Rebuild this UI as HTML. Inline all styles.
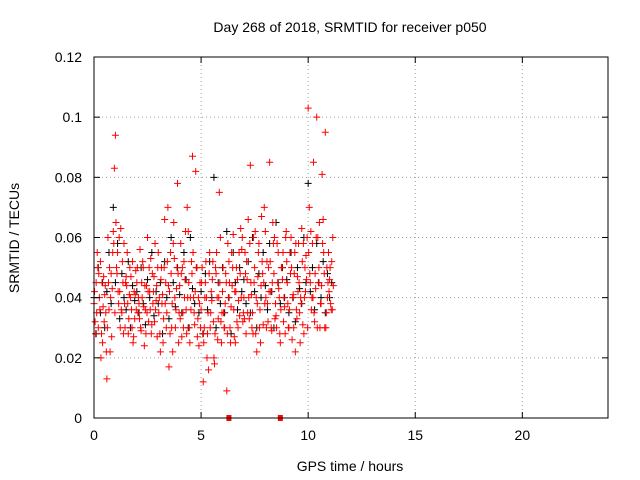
<!DOCTYPE html>
<html><head><meta charset="utf-8"><style>
body{margin:0;background:#fff;}
svg{display:block;font-family:"Liberation Sans",sans-serif;}
</style></head><body>
<svg id="chart" width="640" height="480" viewBox="0 0 640 480"></svg>
<script>
const times=[0.0,0.1,0.2,0.3,0.4,0.5,0.6,0.7,0.8,0.9,1.0,1.1,1.2,1.3,1.4,1.5,1.6,1.7,1.8,1.9,2.0,2.1,2.2,2.3,2.4,2.5,2.6,2.7,2.8,2.9,3.0,3.1,3.2,3.3,3.4,3.5,3.6,3.7,3.8,3.9,4.0,4.1,4.2,4.3,4.4,4.5,4.6,4.7,4.8,4.9,5.0,5.1,5.2,5.3,5.4,5.5,5.6,5.7,5.8,5.9,6.0,6.1,6.2,6.3,6.4,6.5,6.6,6.7,6.8,6.9,7.0,7.1,7.2,7.3,7.4,7.5,7.6,7.7,7.8,7.9,8.0,8.1,8.2,8.3,8.4,8.5,8.6,8.7,8.8,8.9,9.0,9.1,9.2,9.3,9.4,9.5,9.6,9.7,9.8,9.9,10.0,10.1,10.2,10.3,10.4,10.5,10.6,10.7,10.8,10.9,11.0,11.1];
const redA=[.038,.045,.030,.052,.025,.041,.013,.036,.048,.062,.094,.055,.042,.035,.058,.047,.028,.040,.052,.033,.045,.038,.029,.050,.036,.060,.042,.031,.047,.039,.055,.022,.041,.066,.035,.017,.048,.058,.030,.078,.044,.027,.052,.036,.062,.040,.087,.031,.050,.024,.036,.012,.045,.028,.055,.039,.020,.048,.033,.060,.042,.030,.009,.052,.037,.061,.025,.046,.034,.056,.040,.028,.066,.084,.035,.050,.022,.058,.044,.031,.062,.038,.085,.029,.048,.034,.055,.025,.046,.037,.052,.030,.060,.041,.022,.047,.035,.063,.028,.054,.103,.045,.058,.032,.100,.050,.038,.066,.095,.040,.046,.052];
const redB=[.032,.055,.040,.028,.047,.035,.060,.022,.043,.083,.050,.038,.063,.045,.030,.055,.041,.036,.027,.049,.035,.056,.040,.024,.044,.032,.053,.038,.058,.027,.040,.050,.033,.045,.070,.028,.038,.053,.043,.025,.058,.035,.046,.070,.030,.052,.040,.082,.033,.045,.050,.030,.040,.016,.035,.052,.028,.040,.075,.025,.035,.048,.058,.030,.044,.027,.050,.039,.063,.032,.055,.046,.033,.041,.060,.028,.047,.036,.052,.070,.030,.050,.042,.065,.033,.058,.040,.050,.032,.060,.038,.055,.026,.048,.036,.058,.040,.031,.050,.060,.070,.036,.085,.043,.060,.030,.081,.048,.035,.055,.038,.060];
const redC=[.042,.035,.048,.020,.037,.044,.030,.050,.027,.058,.065,.042,.030,.052,.038,.044,.033,.047,.025,.041,.050,.033,.045,.037,.028,.042,.036,.048,.032,.044,.035,.046,.025,.038,.052,.042,.030,.065,.036,.048,.033,.050,.040,.028,.045,.036,.055,.042,.027,.038,.045,.025,.052,.035,.030,.046,.018,.055,.040,.032,.050,.038,.028,.045,.055,.036,.042,.030,.048,.060,.033,.052,.040,.045,.028,.062,.038,.030,.067,.045,.040,.032,.052,.045,.060,.030,.043,.036,.055,.028,.045,.036,.050,.030,.058,.042,.025,.052,.040,.046,.055,.062,.040,.048,.030,.065,.044,.055,.030,.045,.050,.036];
const redD=[.028,.050,.036,.045,.032,.022,.045,.040,.055,.035,.048,.060,.036,.028,.045,.038,.050,.030,.042,.036,.040,.030,.052,.044,.035,.050,.028,.042,.036,.050,.028,.038,.050,.030,.044,.055,.022,.040,.050,.035,.048,.030,.062,.040,.025,.048,.035,.050,.040,.030,.028,.040,.020,.048,.042,.032,.050,.026,.045,.035,.030,.045,.040,.025,.050,.042,.032,.055,.040,.035,.048,.035,.058,.030,.045,.040,.055,.025,.048,.038,.052,.042,.030,.058,.038,.045,.028,.050,.040,.062,.030,.048,.040,.055,.033,.045,.038,.058,.042,.030,.048,.040,.035,.060,.045,.038,.058,.030,.050,.042,.036,.044];
const black=[.040,.028,.050,.035,.045,.030,.042,.055,.038,.070,.045,.058,.033,.048,.040,.036,.052,.030,.044,.039,.042,.035,.050,.038,.031,.046,.040,.055,.034,.042,.038,.045,.028,.052,.040,.033,.060,.045,.037,.050,.041,.035,.055,.046,.030,.060,.043,.038,.050,.035,.042,.028,.048,.036,.052,.040,.080,.030,.045,.038,.050,.035,.062,.040,.028,.055,.045,.036,.050,.042,.046,.038,.052,.035,.060,.042,.030,.048,.040,.055,.044,.036,.058,.042,.030,.065,.045,.038,.050,.040,.046,.035,.055,.040,.032,.050,.043,.038,.060,.045,.078,.042,.050,.036,.058,.045,.040,.052,.035,.048,.040,.045];
const zeroTimes=[6.3,8.7];
const zeroVals=[0,0];
const xTicks=[0,5,10,15,20];
const yTicks=[0,0.02,0.04,0.06,0.08,0.1,0.12];
const yTickLabels=["0","0.02","0.04","0.06","0.08","0.1","0.12"];

const L=94,R=608,T=57,B=418;
const xs=v=>L+(v/24)*(R-L);
const ys=v=>B-(v/0.12)*(B-T);
const svg=document.getElementById('chart');
const NS='http://www.w3.org/2000/svg';
function mk(tag,attrs,parent){const e=document.createElementNS(NS,tag);for(const k in attrs)e.setAttribute(k,attrs[k]);(parent||svg).appendChild(e);return e;}

const grid=mk('g',{});


xTicks.forEach(t=>{if(t>0){mk('line',{x1:xs(t),x2:xs(t),y1:T,y2:B,stroke:'#a0a0a0','stroke-dasharray':'1,3','stroke-width':1},grid);}});
yTicks.forEach(t=>{if(t>0&&t<0.12){mk('line',{x1:L,x2:R,y1:ys(t),y2:ys(t),stroke:'#a0a0a0','stroke-dasharray':'1,3','stroke-width':1},grid);}});

const pts=mk('g',{});


function plus(x,y,c,name){const p=mk('path',{d:`M${x-3.5},${y}h7M${x},${y-3.5}v7`,stroke:c,'stroke-width':1},pts);

}
times.forEach((t,i)=>plus(xs(t),ys(black[i]),'#000','point-black'));
times.forEach((t,i)=>plus(xs(t),ys(redA[i]),'#f00','point-red'));
times.forEach((t,i)=>plus(xs(t+0.05),ys(redB[i]),'#f00','point-red'));
times.forEach((t,i)=>plus(xs(t+0.025),ys(redC[i]),'#f00','point-red'));
times.forEach((t,i)=>plus(xs(t+0.075),ys(redD[i]),'#f00','point-red'));
zeroTimes.forEach((t,i)=>{const r=mk('rect',{x:xs(t)-2.5,y:ys(zeroVals[i])-3,width:5,height:6,fill:'#f00'},pts);

});

const ax=mk('g',{});


mk('rect',{x:L,y:T,width:R-L,height:B-T,fill:'none',stroke:'#000','stroke-width':1},ax);
xTicks.forEach(t=>{const x=xs(t);
mk('line',{x1:x,x2:x,y1:B,y2:B-6,stroke:'#000'},ax);mk('line',{x1:x,x2:x,y1:T,y2:T+6,stroke:'#000'},ax);
const tx=mk('text',{x:x,y:B+22,'text-anchor':'middle','font-size':14,fill:'#000'},ax);tx.textContent=t;

});
yTicks.forEach((t,i)=>{const y=ys(t);
mk('line',{x1:L,x2:L+6,y1:y,y2:y,stroke:'#000'},ax);mk('line',{x1:R,x2:R-6,y1:y,y2:y,stroke:'#000'},ax);
const tx=mk('text',{x:L-12,y:y+5,'text-anchor':'end','font-size':14,fill:'#000'},ax);tx.textContent=yTickLabels[i];

});
</script>
<svg style="position:absolute;left:0;top:0" width="640" height="480">
<text x="350" y="32" text-anchor="middle" font-size="14" font-family="Liberation Sans,sans-serif">Day 268 of 2018, SRMTID for receiver p050</text>
<text x="350" y="471" text-anchor="middle" font-size="14" font-family="Liberation Sans,sans-serif">GPS time / hours</text>
<text transform="translate(19,238) rotate(-90)" text-anchor="middle" font-size="14" font-family="Liberation Sans,sans-serif">SRMTID / TECUs</text>
</svg>
</body></html>
